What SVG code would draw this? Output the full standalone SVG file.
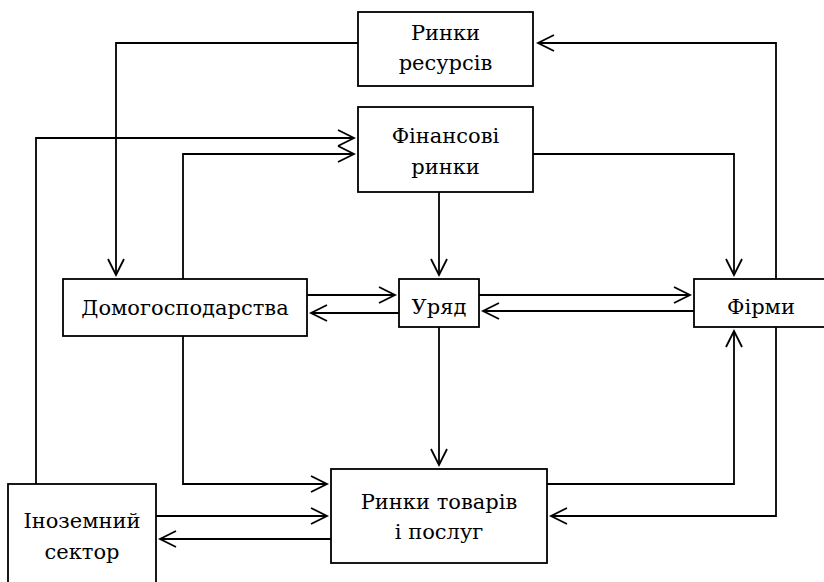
<svg xmlns="http://www.w3.org/2000/svg" width="824" height="582" viewBox="0 0 824 582">
<style>
.box{fill:#fff;stroke:#000;stroke-width:1.8}
.c{fill:none;stroke:#000;stroke-width:1.8;marker-end:url(#a)}
text{font-family:"DejaVu Serif","Liberation Serif",serif;font-size:21px;fill:#000;text-anchor:middle}
</style>
<defs>
<marker id="a" markerUnits="userSpaceOnUse" markerWidth="20" markerHeight="20" refX="17" refY="9" orient="auto">
<path d="M1,1 L17,9 L1,17" fill="none" stroke="#000" stroke-width="1.8"/>
</marker>
</defs>
<rect width="824" height="582" fill="#fff"/>
<g id="connectors">
<path class="c" d="M358,43 H116 V275"/>
<path class="c" d="M36,484 V138 H354"/>
<path class="c" d="M183,279 V154 H354"/>
<path class="c" d="M439,192 V275"/>
<path class="c" d="M533,154 H734 V275"/>
<path class="c" d="M776,279 V43 H538"/>
<path class="c" d="M307,295 H395"/>
<path class="c" d="M399,313 H311"/>
<path class="c" d="M479,295 H690"/>
<path class="c" d="M694,311 H483"/>
<path class="c" d="M439,327 V465"/>
<path class="c" d="M547,484 H734 V331"/>
<path class="c" d="M776,327 V516 H551"/>
<path class="c" d="M183,327 V484 H327"/>
<path class="c" d="M156,516 H327"/>
<path class="c" d="M331,539 H160"/>
</g>
<g id="resources">
<rect class="box" x="358" y="12" width="175" height="74"/>
<text x="445.5" y="40">Ринки</text>
<text x="445.5" y="70">ресурсів</text>
</g>
<g id="financial">
<rect class="box" x="358" y="107" width="175" height="85"/>
<text x="445.5" y="143">Фінансові</text>
<text x="445.5" y="174">ринки</text>
</g>
<g id="households">
<rect class="box" x="63" y="279" width="244" height="57"/>
<text x="185" y="315">Домогосподарства</text>
</g>
<g id="government">
<rect class="box" x="399" y="279" width="80" height="48"/>
<text x="439" y="314">Уряд</text>
</g>
<g id="firms">
<rect class="box" x="694" y="279" width="140" height="48"/>
<text x="761" y="314">Фірми</text>
</g>
<g id="goods">
<rect class="box" x="331" y="469" width="216" height="94"/>
<text x="439" y="509">Ринки товарів</text>
<text x="439" y="539">і послуг</text>
</g>
<g id="foreign">
<rect class="box" x="8" y="484" width="148" height="110"/>
<text x="82" y="528">Іноземний</text>
<text x="82" y="559">сектор</text>
</g>
</svg>
